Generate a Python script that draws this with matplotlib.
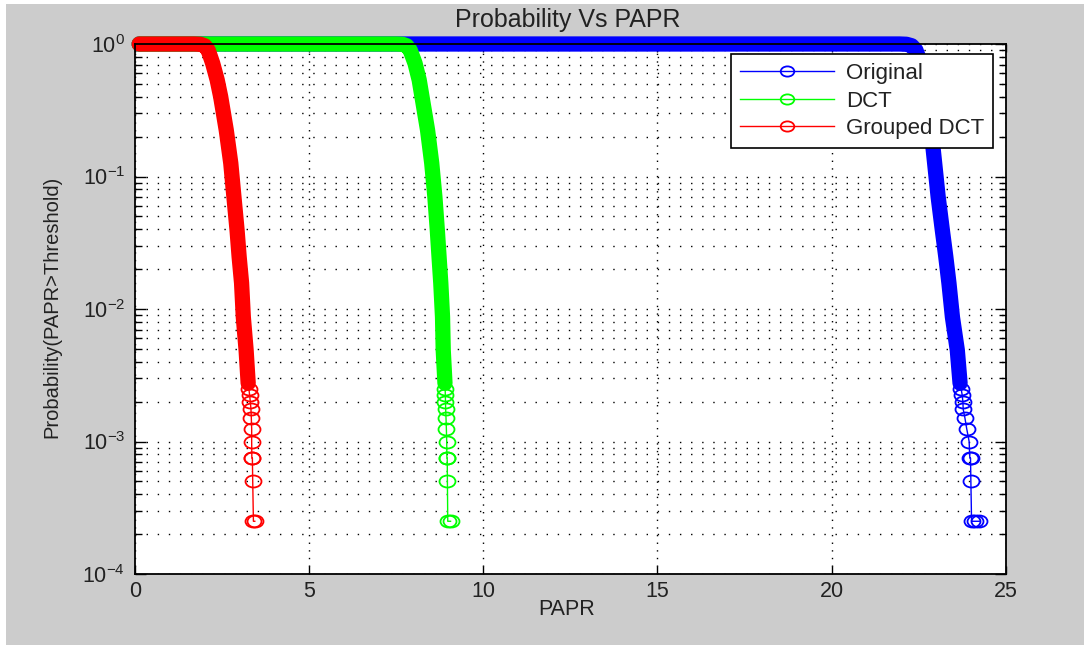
import matplotlib
matplotlib.use("Agg")
import matplotlib.pyplot as plt
import matplotlib.patches as mpatches
import matplotlib.ticker as mticker
from matplotlib.path import Path
from matplotlib.transforms import Affine2D

plt.rcParams['font.family'] = ['Liberation Sans', 'DejaVu Sans']
plt.rcParams['mathtext.default'] = 'regular'
plt.rcParams['axes.unicode_minus'] = False

# values: threshold (PAPR) and P(PAPR > threshold)
orig_papr = [0.12, 21.95, 22.15, 22.30, 22.42, 22.56, 22.66, 22.74, 22.86, 22.96,
             23.06, 23.18, 23.28, 23.37, 23.47, 23.61, 23.69, 23.72, 23.75, 23.77,
             23.78, 23.83, 23.88, 23.95, 23.97, 23.99, 24.00, 24.02, 24.12, 24.24]
orig_prob = [1.0, 1.0, 0.995, 0.97, 0.90, 0.715, 0.535, 0.40, 0.224, 0.126,
             0.0704, 0.0395, 0.0248, 0.0157, 0.0087, 0.0049, 0.00275, 0.0025, 0.00225, 0.002,
             0.00175, 0.0015, 0.00125, 0.001, 0.00075, 0.00075, 0.0005, 0.00025, 0.00025, 0.00025]

dct_papr = [0.12, 7.50, 7.68, 7.80, 7.90, 8.04, 8.16, 8.24, 8.40, 8.52,
            8.61, 8.68, 8.73, 8.78, 8.83, 8.85, 8.90, 8.905, 8.91, 8.915,
            8.92, 8.93, 8.94, 8.95, 8.955, 8.965, 8.97, 8.98, 9.06]
dct_prob = [1.0, 1.0, 0.995, 0.97, 0.90, 0.715, 0.535, 0.40, 0.224, 0.126,
            0.0704, 0.0395, 0.0248, 0.0157, 0.0087, 0.0049, 0.00275, 0.0025, 0.00225, 0.002,
            0.00175, 0.0015, 0.00125, 0.001, 0.00075, 0.00075, 0.0005, 0.00025, 0.00025]

grouped_papr = [0.12, 1.70, 1.88, 2.00, 2.10, 2.23, 2.36, 2.46, 2.62, 2.75,
                2.84, 2.93, 2.99, 3.06, 3.11, 3.19, 3.25, 3.27, 3.29, 3.31,
                3.33, 3.34, 3.35, 3.35, 3.355, 3.37, 3.38, 3.40, 3.44]
grouped_prob = [1.0, 1.0, 0.995, 0.97, 0.90, 0.715, 0.535, 0.40, 0.224, 0.126,
                0.0704, 0.0395, 0.0248, 0.0157, 0.0087, 0.0049, 0.00275, 0.0025, 0.00225, 0.002,
                0.00175, 0.0015, 0.00125, 0.001, 0.00075, 0.00075, 0.0005, 0.00025, 0.00025]

series = [
    ("Original", orig_papr, orig_prob, "#0000ff"),
    ("DCT", dct_papr, dct_prob, "#00ff00"),
    ("Grouped DCT", grouped_papr, grouped_prob, "#ff0000"),
]

x_ticks = [0, 5, 10, 15, 20, 25]

W, H = 1084, 645
fig = plt.figure(figsize=(W / 100, H / 100), dpi=100)
fig.patch.set_facecolor("white")
fig.add_artist(mpatches.Rectangle((6 / W, 0), 1, (H - 4) / H, transform=fig.transFigure,
                                  facecolor="#cccccc", edgecolor="none", zorder=-1))

ax = fig.add_axes([135 / W, 71 / H, 870.7 / W, 530 / H])
ax.set_facecolor("white")

# the image is a bit wider than tall, so circles come out as ellipses
ellipse = Path.unit_circle().transformed(Affine2D().scale(1.33, 1.0))

for name, xs, ps, col in series:
    # dense part: the markers overlap into a solid band
    dense = [i for i, p in enumerate(ps) if p >= 0.0027]
    sparse = [i for i, p in enumerate(ps) if p < 0.0027]
    ax.plot([xs[i] for i in dense], [ps[i] for i in dense], color=col, lw=11,
            solid_capstyle="round", solid_joinstyle="round", clip_on=False, zorder=2)
    ax.plot(xs, ps, color=col, lw=1.0, marker=ellipse, markersize=11.5,
            markerfacecolor="none", markeredgecolor=col, markeredgewidth=1.3,
            markevery=sparse, label=name, clip_on=False, zorder=2)

ax.set_yscale("log")
ax.set_xlim(0, 25)
ax.set_ylim(1e-4, 1)
ax.set_xticks(x_ticks)
ax.yaxis.set_major_locator(mticker.LogLocator(base=10, numticks=10))
ax.yaxis.set_minor_locator(mticker.LogLocator(base=10, subs=range(2, 10), numticks=10))
ax.yaxis.set_minor_formatter(mticker.NullFormatter())

ax.xaxis.grid(True, which="major", color="black", lw=1.0, linestyle=(0, (1, 4.5)))
ax.yaxis.grid(True, which="both", color="black", lw=1.0, linestyle=(0, (1, 7)))
ax.set_axisbelow(True)

ax.tick_params(axis="both", which="both", direction="in", top=True, right=True,
               colors="black", labelsize=15.5, width=1.0)
ax.tick_params(axis="x", which="major", length=5.5, pad=5)
ax.tick_params(axis="y", which="major", length=8, pad=7)
ax.tick_params(axis="y", which="minor", length=5)
for lab in ax.get_xticklabels() + ax.get_yticklabels():
    lab.set_color("#222222")
for sp in ax.spines.values():
    sp.set_linewidth(1.3)
    sp.set_color("black")

leg = ax.legend(loc="upper right", bbox_to_anchor=((993 - 135) / 870.7, (574 - 54) / 530),
                borderaxespad=0, fontsize=16, handlelength=4.2, handletextpad=0.55,
                labelspacing=0.3, borderpad=0.4, fancybox=False, framealpha=1,
                edgecolor="black", markerscale=0.85)
leg.get_frame().set_linewidth(1.2)
for t in leg.get_texts():
    t.set_color("#222222")

fig.text(567.5 / W, 1 - 27 / H, "Probability Vs PAPR", ha="center", va="baseline",
         fontsize=18, color="#222222")
fig.text(567 / W, 1 - 615 / H, "PAPR", ha="center", va="baseline",
         fontsize=15.5, color="#222222")
fig.text(52 / W, 1 - 307 / H, "Probability(PAPR>Threshold)", ha="center", va="center",
         rotation=90, fontsize=14.5, color="#222222")

fig.savefig("out.png", dpi=100)
